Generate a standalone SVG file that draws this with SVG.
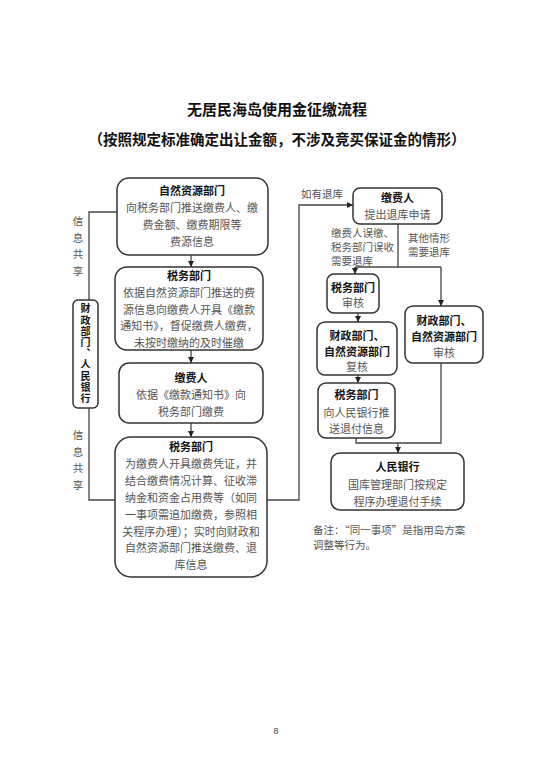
<svg xmlns="http://www.w3.org/2000/svg" width="553" height="782" viewBox="0 0 553 782">
<style>
text{font-family:"Noto Sans CJK SC","Noto Sans CJK JP",sans-serif;}
.t{font-size:15px;font-weight:bold;fill:#111;text-anchor:middle;}
.t2{font-size:14.5px;font-weight:bold;fill:#111;text-anchor:middle;}
.h{font-size:11px;font-weight:bold;fill:#111;text-anchor:middle;}
.v{font-size:10px;font-weight:bold;fill:#111;text-anchor:middle;writing-mode:vertical-rl;letter-spacing:1.2px;}
.b{font-size:11px;fill:#555;text-anchor:middle;}
.l{font-size:10.5px;fill:#555;}
.vl{font-size:10.5px;fill:#555;text-anchor:middle;writing-mode:vertical-rl;letter-spacing:6px;}
.box{fill:#fff;stroke:#333;stroke-width:1.5;}
.ln{fill:none;stroke:#444;stroke-width:1.3;}
</style>
<defs>
<marker id="ar" viewBox="0 0 10 10" refX="10" refY="5" markerWidth="6" markerHeight="6" orient="auto" markerUnits="userSpaceOnUse">
<path d="M0,0 L10,5 L0,10 z" fill="#222"/>
</marker>
</defs>
<rect width="553" height="782" fill="#fff"/>
<text class="t" x="277" y="115">无居民海岛使用金征缴流程</text>
<text class="t2" x="277" y="145">（按照规定标准确定出让金额，不涉及竞买保证金的情形）</text>

<g id="connectors">
<line class="ln" x1="191" y1="255" x2="191" y2="267" marker-end="url(#ar)"/>
<line class="ln" x1="191" y1="350" x2="191" y2="363" marker-end="url(#ar)"/>
<line class="ln" x1="191" y1="423" x2="191" y2="437" marker-end="url(#ar)"/>
<polyline class="ln" points="117,212 89,212 89,300"/>
<polyline class="ln" points="89,408 89,500 115,500"/>
<polyline class="ln" points="267,500 299,500 299,205 353,205" marker-end="url(#ar)"/>
<line class="ln" x1="398" y1="224" x2="398" y2="267"/>
<line class="ln" x1="355" y1="267" x2="441" y2="267"/>
<line class="ln" x1="355" y1="267" x2="355" y2="274" marker-end="url(#ar)"/>
<line class="ln" x1="441" y1="267" x2="441" y2="306" marker-end="url(#ar)"/>
<line class="ln" x1="358" y1="313" x2="358" y2="322" marker-end="url(#ar)"/>
<line class="ln" x1="358" y1="375" x2="358" y2="383" marker-end="url(#ar)"/>
<polyline class="ln" points="356,438 356,443 441,443 441,363"/>
<line class="ln" x1="398" y1="443" x2="398" y2="453" marker-end="url(#ar)"/>
</g>

<g id="label-share1">
<text class="vl" x="78" y="249">信息共享</text>
</g>
<g id="label-share2">
<text class="vl" x="78" y="463">信息共享</text>
</g>
<g id="label-refund">
<text class="l" x="301" y="198">如有退库</text>
</g>
<g id="label-mistake">
<text class="l" x="331" y="237">缴费人误缴、</text>
<text class="l" x="331" y="251">税务部门误收</text>
<text class="l" x="331" y="265">需要退库</text>
</g>
<g id="label-other">
<text class="l" x="408" y="242">其他情形</text>
<text class="l" x="408" y="256">需要退库</text>
</g>

<g id="node-czrm">
<rect class="box" x="73" y="300" width="25" height="108" rx="5"/>
<text class="v" x="85.5" y="354">财政部门、人民银行</text>
</g>

<g id="node-zrzy">
<rect class="box" x="117" y="178" width="151" height="77" rx="12"/>
<text class="h" x="192" y="195">自然资源部门</text>
<text class="b" x="192" y="212">向税务部门推送缴费人、缴</text>
<text class="b" x="192" y="229">费金额、缴费期限等</text>
<text class="b" x="192" y="246">费源信息</text>
</g>

<g id="node-sw1">
<rect class="box" x="115" y="267" width="148" height="83" rx="12"/>
<text class="h" x="189" y="280">税务部门</text>
<text class="b" x="189" y="297">依据自然资源部门推送的费</text>
<text class="b" x="189" y="314">源信息向缴费人开具《缴款</text>
<text class="b" x="189" y="330">通知书》，督促缴费人缴费，</text>
<text class="b" x="189" y="347">未按时缴纳的及时催缴</text>
</g>

<g id="node-jfr1">
<rect class="box" x="119" y="363" width="144" height="60" rx="10"/>
<text class="h" x="191" y="382">缴费人</text>
<text class="b" x="191" y="399">依据《缴款通知书》向</text>
<text class="b" x="191" y="416">税务部门缴费</text>
</g>

<g id="node-sw2">
<rect class="box" x="115" y="437" width="152" height="140" rx="16"/>
<text class="h" x="191" y="451">税务部门</text>
<text class="b" x="191" y="468">为缴费人开具缴费凭证，并</text>
<text class="b" x="191" y="485">结合缴费情况计算、征收滞</text>
<text class="b" x="191" y="502">纳金和资金占用费等（如同</text>
<text class="b" x="191" y="519">一事项需追加缴费，参照相</text>
<text class="b" x="191" y="536">关程序办理）；实时向财政和</text>
<text class="b" x="191" y="552">自然资源部门推送缴费、退</text>
<text class="b" x="191" y="569">库信息</text>
</g>

<g id="node-jfr2">
<rect class="box" x="353" y="188" width="89" height="36" rx="7"/>
<text class="h" x="397.5" y="202">缴费人</text>
<text class="b" x="397.5" y="219">提出退库申请</text>
</g>

<g id="node-sw-sh">
<rect class="box" x="327" y="274" width="52" height="39" rx="7"/>
<text class="h" x="353" y="292">税务部门</text>
<text class="b" x="353" y="307">审核</text>
</g>

<g id="node-cz-fh">
<rect class="box" x="317" y="322" width="80" height="53" rx="8"/>
<text class="h" x="357" y="340">财政部门、</text>
<text class="h" x="357" y="356">自然资源部门</text>
<text class="b" x="357" y="371">复核</text>
</g>

<g id="node-cz-sh">
<rect class="box" x="405" y="306" width="78" height="57" rx="8"/>
<text class="h" x="444" y="325">财政部门、</text>
<text class="h" x="444" y="341">自然资源部门</text>
<text class="b" x="444" y="357">审核</text>
</g>

<g id="node-sw-ts">
<rect class="box" x="318" y="383" width="77" height="55" rx="8"/>
<text class="h" x="356.5" y="399">税务部门</text>
<text class="b" x="356.5" y="417">向人民银行推</text>
<text class="b" x="356.5" y="433">送退付信息</text>
</g>

<g id="node-rmyh">
<rect class="box" x="331" y="453" width="133" height="57" rx="9"/>
<text class="h" x="397.5" y="471">人民银行</text>
<text class="b" x="397.5" y="489">国库管理部门按规定</text>
<text class="b" x="397.5" y="506">程序办理退付手续</text>
</g>

<g id="note">
<text class="l" x="313" y="534">备注：“同一事项”是指用岛方案</text>
<text class="l" x="313" y="549">调整等行为。</text>
</g>
<text x="276" y="734" font-size="9" fill="#444" text-anchor="middle" style="font-family:'Liberation Sans',sans-serif">8</text>
</svg>
